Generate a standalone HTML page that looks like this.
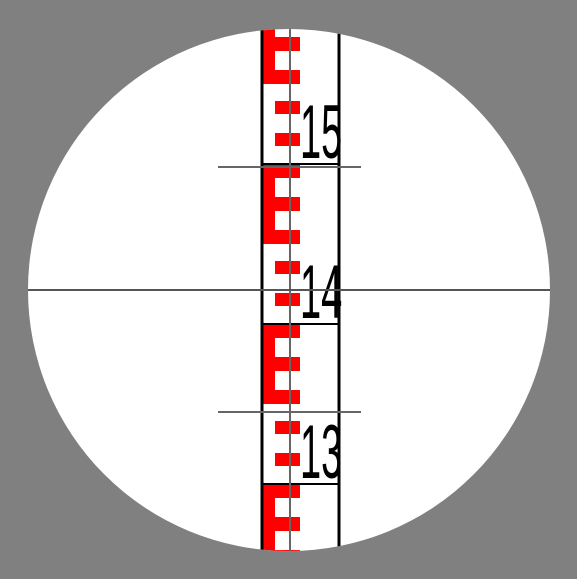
<!DOCTYPE html>
<html><head><meta charset="utf-8"><style>
html,body{margin:0;padding:0;background:#808080;width:577px;height:579px;overflow:hidden;}
svg{display:block;}
</style></head><body>
<svg id="v" width="577" height="579" viewBox="0 0 577 579" xmlns="http://www.w3.org/2000/svg">
<defs><clipPath id="c"><circle cx="289" cy="290" r="261"/></clipPath></defs>
<rect width="577" height="579" fill="#808080"/>
<circle cx="289" cy="290" r="261" fill="#fff"/>
<g id="rod" clip-path="url(#c)"></g>
</svg>
<script>
const periodLabels = ["15", "14", "13", ""];
const periodTops = [4, 164, 324, 484];
const eArms = [[0, 14], [33, 47], [66, 80]];
const squares = [[97, 110], [129, 142]];
const NS = "http://www.w3.org/2000/svg";
const g = document.getElementById('rod');
function mk(t, a) { const e = document.createElementNS(NS, t); for (const k in a) e.setAttribute(k, a[k]); g.appendChild(e); return e; }
periodTops.forEach((top, i) => {
  let e = mk('rect', {x: 262, y: top, width: 13, height: 80, fill: '#ff0000'});
  
  
  eArms.forEach(a => {
    let r = mk('rect', {x: 275, y: top + a[0], width: 25, height: a[1] - a[0], fill: '#ff0000'});
    
    
  });
  squares.forEach(s => {
    let r = mk('rect', {x: 275, y: top + s[0], width: 25, height: s[1] - s[0], fill: '#ff0000'});
    
    
  });
  let l = mk('line', {x1: 261, x2: 340, y1: top, y2: top, stroke: '#000', 'stroke-width': 2});
  
  
  if (periodLabels[i]) {
    let t = mk('text', {x: 0, y: 0, 'font-family': 'Liberation Sans, sans-serif', 'font-size': 76, fill: '#000',
      transform: `translate(300 ${top + 154}) scale(0.5 1)`});
    t.textContent = periodLabels[i];
    
    
  }
});
let bl = mk('line', {x1: 262, x2: 262, y1: 0, y2: 579, stroke: '#000', 'stroke-width': 3});


let br = mk('line', {x1: 339, x2: 339, y1: 0, y2: 579, stroke: '#000', 'stroke-width': 3});


let vc = mk('line', {x1: 290, x2: 290, y1: 0, y2: 579, stroke: '#666', 'stroke-width': 2});


let hc = mk('line', {x1: 0, x2: 577, y1: 290, y2: 290, stroke: '#555', 'stroke-width': 2});


[167, 412].forEach(y => {
  let s = mk('line', {x1: 218, x2: 361, y1: y, y2: y, stroke: '#666', 'stroke-width': 2});
  
  
});
</script>
</body></html>
